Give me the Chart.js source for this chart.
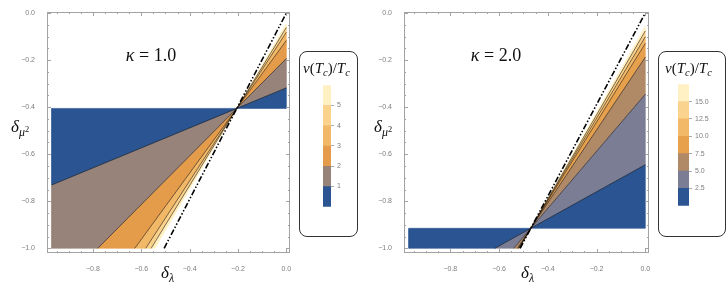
<!DOCTYPE html>
<html>
<head>
<meta charset="utf-8">
<script src="https://cdn.jsdelivr.net/npm/chart.js@4.4.1/dist/chart.umd.min.js"></script>
<style>
  body { margin: 0; background: #fff; width: 728px; height: 291px; position: relative; overflow: hidden; }
  canvas { position: absolute; }
  .m { position: absolute; font-family: "Liberation Serif", "DejaVu Serif", serif; color: #111; white-space: nowrap; line-height: 1; }
  .m sub { font-size: 70%; vertical-align: -0.3em; }
  .m sup { font-size: 70%; vertical-align: 0.45em; }
  .box { position: absolute; border: 1px solid #333; border-radius: 8px; box-sizing: border-box; }
  .ttl { font-size: 18px; transform: translate(-50%, -50%); }
  .ax { font-size: 17px; }
</style>
</head>
<body>
<canvas id="plot1" width="300" height="291" style="left:0;top:0"></canvas>
<canvas id="plot2" width="302" height="291" style="left:357px;top:0"></canvas>

<div class="box" style="left:299px;top:51px;width:59px;height:186px"></div>
<div class="box" style="left:658px;top:51px;width:68px;height:186px"></div>
<canvas id="bar1" width="40" height="136" style="left:318px;top:78px"></canvas>
<canvas id="bar2" width="40" height="136" style="left:673px;top:77px"></canvas>

<div class="m" style="left:303px;top:61px;font-size:15px"><i>v</i>(<i>T</i><sub><i>c</i></sub>)/<i>T</i><sub><i>c</i></sub></div>
<div class="m" style="left:665px;top:61px;font-size:15px"><i>v</i>(<i>T</i><sub><i>c</i></sub>)/<i>T</i><sub><i>c</i></sub></div>

<div class="m ttl" style="left:151px;top:55px"><i>κ</i> = 1.0</div>
<div class="m ttl" style="left:496px;top:55px"><i>κ</i> = 2.0</div>

<div class="m ax" style="left:161px;top:264px"><i>δ</i><sub><i>λ</i></sub></div>
<div class="m ax" style="left:521px;top:264px"><i>δ</i><sub><i>λ</i></sub></div>
<div class="m ax" style="left:11px;top:118px"><i>δ</i><sub><i>μ</i><sup>2</sup></sub></div>
<div class="m ax" style="left:374px;top:118px"><i>δ</i><sub><i>μ</i><sup>2</sup></sub></div>

<script>
// ---- values ----
const xTicks = [-0.8, -0.6, -0.4, -0.2, 0.0];
const yTicks = [0.0, -0.2, -0.4, -0.6, -0.8, -1.0];
const domainX = [-0.97, 0];
const domainY = [-1, 0];

// kappa = 1.0 : every contour is a straight line through the pivot
const pivot1 = [-0.205, -0.405];
const levels1 = [1, 2, 3, 4, 5];
const slopes1 = [0.425, 1.035, 1.41, 1.58, 1.68];
const edge1 = 1.76;   // outer edge of the filled region
const dash1 = 1.98;   // dash-dotted line
const colors1 = ["#2a5592", "#978379", "#e49c4a", "#f0b867", "#fad28c", "#fff0c2"];

// kappa = 2.0
const pivot2 = [-0.47, -0.915];
const levels2 = [2.5, 5, 7.5, 10, 12.5, 15];
const slopes2 = [0.575, 1.213, 1.549, 1.674, 1.734, 1.787];
const edge2 = 1.83;
const dash2 = 1.95;
const colors2 = ["#2a5592", "#7b7d94", "#b08967", "#e7a04b", "#f1b968", "#fad38e", "#fff1c4"];

// ---- geometry helpers ----
function clipHalf(pts, inside, cross) {
  const out = [];
  for (let i = 0; i < pts.length; i++) {
    const a = pts[i], b = pts[(i + 1) % pts.length];
    const ia = inside(a), ib = inside(b);
    if (ia) out.push(a);
    if (ia !== ib) out.push(cross(a, b));
  }
  return out;
}
function clipToDomain(pts) {
  const planes = [[0, domainX[0], 1], [0, domainX[1], -1], [1, domainY[0], 1], [1, domainY[1], -1]];
  planes.forEach(([k, v, sgn]) => {
    pts = clipHalf(pts, p => sgn * (p[k] - v) >= 0, (a, b) => {
      const t = (v - a[k]) / (b[k] - a[k]);
      return [a[0] + t * (b[0] - a[0]), a[1] + t * (b[1] - a[1])];
    });
  });
  return pts;
}
function wedge(p, a0, a1, flip) {
  const R = 5, s = flip ? -1 : 1;
  const pts = [p];
  for (let i = 0; i <= 4; i++) {
    const a = a0 + (a1 - a0) * i / 4;
    pts.push([p[0] + s * R * Math.cos(a), p[1] + s * R * Math.sin(a)]);
  }
  const c = clipToDomain(pts);
  c.push(c[0]);
  return c.map(([x, y]) => ({ x, y }));
}
function lineThrough(p, s) {
  const d = [1, s];
  let t0 = -10, t1 = 10;
  [[0, domainX], [1, domainY]].forEach(([k, [lo, hi]]) => {
    const ta = (lo - p[k]) / d[k], tb = (hi - p[k]) / d[k];
    t0 = Math.max(t0, Math.min(ta, tb));
    t1 = Math.min(t1, Math.max(ta, tb));
  });
  return [{ x: p[0] + t0, y: p[1] + t0 * s }, { x: p[0] + t1, y: p[1] + t1 * s }];
}
const fmt = v => (Math.abs(v) < 1e-9 ? "0.0" : "\u2212" + Math.abs(v).toFixed(1));

// frame with inward ticks on all four sides
const framePlugin = {
  id: "frame",
  afterDatasetsDraw(chart) {
    const { ctx, chartArea: a, scales: { x, y } } = chart;
    ctx.save();
    ctx.strokeStyle = "#a3a3a3";
    ctx.lineWidth = 1;
    ctx.strokeRect(a.left + 0.5, a.top + 0.5, a.width - 1, a.height - 1);
    ctx.beginPath();
    for (let k = -20; k <= 0; k++) {
      const v = k * 0.05, len = k % 4 === 0 ? 4 : 2;
      if (v >= x.min && v <= x.max) {
        const px = Math.round(x.getPixelForValue(v)) + 0.5;
        ctx.moveTo(px, a.bottom); ctx.lineTo(px, a.bottom - len);
        ctx.moveTo(px, a.top); ctx.lineTo(px, a.top + len);
      }
      if (v >= y.min && v <= y.max) {
        const py = Math.round(y.getPixelForValue(v)) + 0.5;
        ctx.moveTo(a.left, py); ctx.lineTo(a.left + len, py);
        ctx.moveTo(a.right, py); ctx.lineTo(a.right - len, py);
      }
    }
    ctx.stroke();
    ctx.restore();
  },
};

function makePlot(id, pivot, slopes, edge, dash, colors) {
  const angles = [0, ...slopes.map(Math.atan), Math.atan(edge)];
  const datasets = [];
  colors.forEach((c, i) => {
    [false, true].forEach(flip => {
      datasets.push({
        data: wedge(pivot, angles[i], angles[i + 1], flip),
        fill: "shape",
        backgroundColor: c,
        borderColor: c,
        borderWidth: 0.6,
        pointRadius: 0,
        order: 3,
      });
    });
  });
  slopes.forEach(s => {
    datasets.push({
      data: lineThrough(pivot, s),
      fill: false,
      borderColor: "rgba(25,20,15,0.7)",
      borderWidth: 0.8,
      pointRadius: 0,
      order: 2,
    });
  });
  datasets.push({
    data: lineThrough(pivot, dash),
    fill: false,
    borderColor: "#000",
    borderWidth: 1.6,
    borderDash: [6, 2, 1.5, 2, 1.5, 2],
    pointRadius: 0,
    order: 1,
  });

  new Chart(document.getElementById(id), {
    type: "line",
    data: { datasets },
    options: {
      responsive: false,
      animation: false,
      events: [],
      layout: { padding: { top: 12, right: 10, left: 0, bottom: 0 } },
      plugins: { legend: { display: false }, tooltip: { enabled: false } },
      scales: {
        x: {
          type: "linear",
          min: -0.99,
          max: 0.015,
          afterBuildTicks: s => { s.ticks = xTicks.map(value => ({ value })); },
          afterFit: s => { s.height = 38; },
          grid: { display: false },
          border: { display: false },
          ticks: { callback: fmt, font: { family: "Liberation Sans", size: 7 }, color: "#7d7d7d", padding: 4, maxRotation: 0, autoSkip: false },
        },
        y: {
          type: "linear",
          min: -1.02,
          max: 0.005,
          afterBuildTicks: s => { s.ticks = yTicks.map(value => ({ value })); },
          afterFit: s => { s.width = 47; },
          grid: { display: false },
          border: { display: false },
          ticks: { callback: fmt, font: { family: "Liberation Sans", size: 7 }, color: "#7d7d7d", padding: 4, autoSkip: false },
        },
      },
    },
    plugins: [framePlugin],
  });
}

function makeBar(id, levels, colors, step, digits, axisWidth) {
  const datasets = colors.map(c => ({
    data: [step],
    backgroundColor: c,
    borderWidth: 0,
    barPercentage: 1,
    categoryPercentage: 1,
  }));
  new Chart(document.getElementById(id), {
    type: "bar",
    data: { labels: [""], datasets },
    options: {
      responsive: false,
      animation: false,
      events: [],
      layout: { padding: { left: 5, top: 6, bottom: 7, right: 0 } },
      plugins: { legend: { display: false }, tooltip: { enabled: false } },
      scales: {
        x: { stacked: true, display: false },
        y: {
          stacked: true,
          position: "right",
          min: 0,
          max: step * colors.length,
          z: 1,
          afterBuildTicks: s => { s.ticks = levels.map(value => ({ value })); },
          afterFit: s => { s.width = axisWidth; },
          grid: { drawOnChartArea: true, color: "rgba(50,35,20,0.6)", tickColor: "#aaa", tickLength: 3, lineWidth: 1 },
          border: { display: false },
          ticks: { callback: v => v.toFixed(digits), font: { family: "Liberation Sans", size: 7 }, color: "#7d7d7d", padding: 3 },
        },
      },
    },
  });
}

makePlot("plot1", pivot1, slopes1, edge1, dash1, colors1);
makePlot("plot2", pivot2, slopes2, edge2, dash2, colors2);
makeBar("bar1", levels1, colors1, 1, 0, 27);
makeBar("bar2", levels2, colors2, 2.5, 1, 24);
</script>
</body>
</html>
